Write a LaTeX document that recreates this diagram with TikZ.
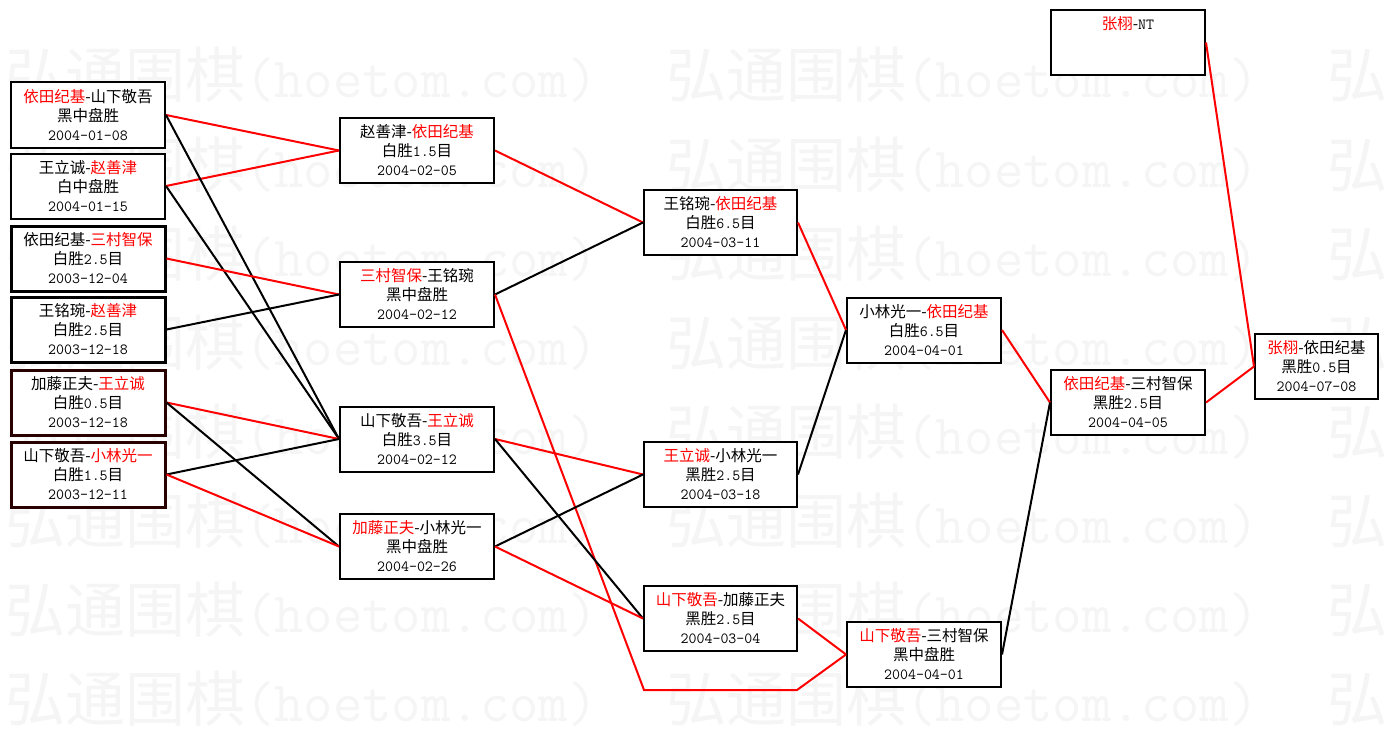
\documentclass[tikz,border=0pt]{standalone}
\usepackage{fontspec}
\newfontfamily\cjk{Noto Sans CJK SC}
\newcommand{\redn}[1]{\textcolor{red}{#1}}
\newcommand{\numt}[1]{{\fontsize{15.5}{19}\selectfont\ttfamily #1}}
\newcommand{\lst}{\vrule height 14pt depth 2pt width 0pt}
\tikzset{
 box/.style={draw=black, line width=2pt, fill=white, rectangle, minimum width=154pt, minimum height=65pt, inner sep=0pt, align=center, font=\cjk\fontsize{15.5}{19}\selectfont, text=black},
 thickbox/.style={box, line width=3pt},
 redline/.style={draw=red, line width=2pt},
 blkline/.style={draw=black, line width=2pt},
 wm/.style={text=black!4, inner sep=0pt, anchor=base west},
}
\begin{document}
\begin{tikzpicture}[x=1pt,y=-1pt]
\useasboundingbox (0,0) rectangle (1388,733);
\fill[white] (0,0) rectangle (1388,733);
\begin{scope}
\clip (0,0) rectangle (1388,733);
\foreach \r in {0,...,7}{\foreach \c in {0,1,2}{
 \node[wm] (wa\r\c) at ({5+661*\c},{98+89*\r}) {\cjk\fontsize{60}{60}\selectfont 弘通围棋};
 \node[wm] (wb\r\c) at ({245+661*\c},{98+89*\r}) {\fontsize{57}{57}\selectfont\ttfamily (hoetom.com)};
}}
\end{scope}
% column 1
\node[box] (n1) at (88,115) {\lst\redn{依田纪基}-山下敬吾\\\lst 黑中盘胜\\\lst\numt{2004-01-08}};
\node[box] (n2) at (88,186) {\lst 王立诚-\redn{赵善津}\\\lst 白中盘胜\\\lst\numt{2004-01-15}};
\node[thickbox] (n3) at (88,258.5) {\lst 依田纪基-\redn{三村智保}\\\lst 白胜\numt{2.5}目\\\lst\numt{2003-12-04}};
\node[thickbox] (n4) at (88,329.5) {\lst 王铭琬-\redn{赵善津}\\\lst 白胜\numt{2.5}目\\\lst\numt{2003-12-18}};
\node[thickbox, draw={rgb,255:red,40;green,0;blue,0}] (n5) at (88,402.5) {\lst 加藤正夫-\redn{王立诚}\\\lst 白胜\numt{0.5}目\\\lst\numt{2003-12-18}};
\node[thickbox, draw={rgb,255:red,40;green,0;blue,0}] (n6) at (88,474.5) {\lst 山下敬吾-\redn{小林光一}\\\lst 白胜\numt{1.5}目\\\lst\numt{2003-12-11}};
% column 2
\node[box] (A) at (417,150.5) {\lst 赵善津-\redn{依田纪基}\\\lst 白胜\numt{1.5}目\\\lst\numt{2004-02-05}};
\node[box] (B) at (417,294.5) {\lst\redn{三村智保}-王铭琬\\\lst 黑中盘胜\\\lst\numt{2004-02-12}};
\node[box] (C) at (417,439) {\lst 山下敬吾-\redn{王立诚}\\\lst 白胜\numt{3.5}目\\\lst\numt{2004-02-12}};
\node[box] (D) at (417,546.5) {\lst\redn{加藤正夫}-小林光一\\\lst 黑中盘胜\\\lst\numt{2004-02-26}};
% column 3
\node[box, minimum width=153pt] (E) at (720.5,222.5) {\lst 王铭琬-\redn{依田纪基}\\\lst 白胜\numt{6.5}目\\\lst\numt{2004-03-11}};
\node[box, minimum width=153pt] (F) at (720.5,474.5) {\lst\redn{王立诚}-小林光一\\\lst 黑胜\numt{2.5}目\\\lst\numt{2004-03-18}};
\node[box, minimum width=153pt] (G) at (720.5,618.5) {\lst\redn{山下敬吾}-加藤正夫\\\lst 黑胜\numt{2.5}目\\\lst\numt{2004-03-04}};
% column 4
\node[box] (H) at (924,330) {\lst 小林光一-\redn{依田纪基}\\\lst 白胜\numt{6.5}目\\\lst\numt{2004-04-01}};
\node[box] (I) at (924,654.5) {\lst\redn{山下敬吾}-三村智保\\\lst 黑中盘胜\\\lst\numt{2004-04-01}};
% column 5
\node[box] (J) at (1128,402.5) {\lst\redn{依田纪基}-三村智保\\\lst 黑胜\numt{2.5}目\\\lst\numt{2004-04-05}};
\node[box] (K) at (1128,42.5) {\lst\redn{张栩}-\numt{NT}\\\lst\\\lst};
% column 6
\node[box, minimum width=123pt] (L) at (1316.5,366.5) {\lst\redn{张栩}-依田纪基\\\lst 黑胜\numt{0.5}目\\\lst\numt{2004-07-08}};
% connectors
\coordinate (b1) at (644,690);
\coordinate (b2) at (797,690);
\draw[redline] (n1.east) -- (A.west);
\draw[redline] (n2.east) -- (A.west);
\draw[blkline] (n1.east) -- (C.west);
\draw[blkline] (n2.east) -- (C.west);
\draw[redline] (n3.east) -- (B.west);
\draw[blkline] (n4.east) -- (B.west);
\draw[redline] (n5.east) -- (C.west);
\draw[blkline] (n5.east) -- (D.west);
\draw[blkline] (n6.east) -- (C.west);
\draw[redline] (n6.east) -- (D.west);
\draw[redline] (A.east) -- (E.west);
\draw[blkline] (B.east) -- (E.west);
\draw[redline] (B.east) -- (b1) -- (b2) -- (I.west);
\draw[redline] (C.east) -- (F.west);
\draw[blkline] (C.east) -- (G.west);
\draw[blkline] (D.east) -- (F.west);
\draw[redline] (D.east) -- (G.west);
\draw[redline] (E.east) -- (H.west);
\draw[blkline] (F.east) -- (H.west);
\draw[redline] (G.east) -- (I.west);
\draw[redline] (H.east) -- (J.west);
\draw[blkline] (I.east) -- (J.west);
\draw[redline] (J.east) -- (L.west);
\draw[redline] (K.east) -- (L.west);
\end{tikzpicture}
\end{document}
